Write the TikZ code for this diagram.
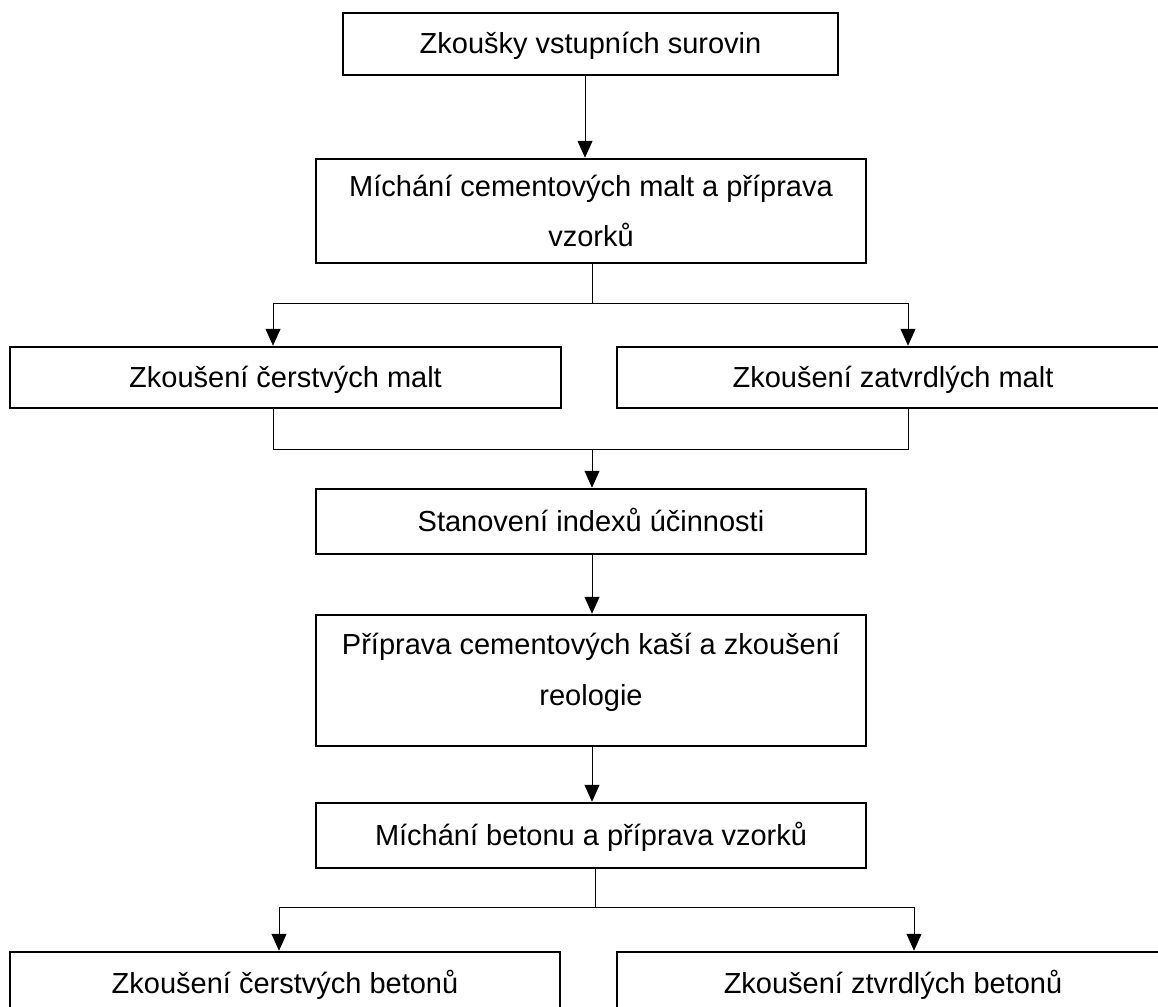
\documentclass[tikz,border=0pt]{standalone}
\usepackage{fontspec}
\setmainfont{Liberation Sans}
\usetikzlibrary{arrows.meta}
\tikzset{
  box/.style={draw, line width=2.5pt, inner sep=0pt, align=center,
    font=\fontsize{29}{50}\selectfont},
  conn/.style={line width=1pt},
  arr/.style={conn, -{Triangle[width=15pt,length=17pt]}}
}
\begin{document}
\begin{tikzpicture}[x=1pt,y=-1pt]
\useasboundingbox (0,0) rectangle (1158,1006);
\clip (0,0) rectangle (1158,1006);
\fill[white] (0,0) rectangle (1158,1006);
\node[box, minimum width=495pt, minimum height=62pt] (b1) at (590.5,44) {\strut Zkoušky vstupních surovin};
\node[box, minimum width=550pt, minimum height=104pt] (b2) at (591,211) {\strut Míchání cementových malt a příprava\\\strut vzorků};
\node[box, minimum width=551pt, minimum height=61pt] (b3l) at (285.5,377.5) {\strut Zkoušení čerstvých malt};
\node[box, minimum width=552pt, minimum height=61pt] (b3r) at (893,377.5) {\strut Zkoušení zatvrdlých malt};
\node[box, minimum width=550pt, minimum height=65pt] (b4) at (591,521.5) {\strut Stanovení indexů účinnosti};
\node[box, minimum width=550pt, minimum height=131pt] (b5) at (591,680.5) {\strut Příprava cementových kaší a zkoušení\\reologie\rule[-37pt]{0pt}{72pt}};
\node[box, minimum width=550pt, minimum height=65pt] (b6) at (591,835.5) {\strut Míchání betonu a příprava vzorků};
\node[box, minimum width=550pt, minimum height=62pt] (b7l) at (285,983) {\strut Zkoušení čerstvých betonů};
\node[box, minimum width=552pt, minimum height=62pt] (b7r) at (893,983) {\strut Zkoušení ztvrdlých betonů};
% columns and junctions
\coordinate (cA) at (585,0);
\coordinate (j1) at (592,303);
\coordinate (c1) at (273,303);
\coordinate (c2) at (908,303);
\coordinate (j2) at (592,449);
\coordinate (d1) at (273,449);
\coordinate (d2) at (908,449);
\coordinate (j3) at (595,907);
\coordinate (e1) at (279,907);
\coordinate (e2) at (914,907);
% connectors
\draw[arr] (cA |- b1.south) -- (cA |- b2.north);
\draw[conn] (j1 |- b2.south) -- (j1);
\draw[arr] (j1) -- (c1) -- (c1 |- b3l.north);
\draw[arr] (j1) -- (c2) -- (c2 |- b3r.north);
\draw[conn] (d1 |- b3l.south) -- (d1) -- (d2) -- (d2 |- b3r.south);
\draw[arr] (j2) -- (j2 |- b4.north);
\draw[arr] (j2 |- b4.south) -- (j2 |- b5.north);
\draw[arr] (j2 |- b5.south) -- (j2 |- b6.north);
\draw[conn] (j3 |- b6.south) -- (j3);
\draw[arr] (j3) -- (e1) -- (e1 |- b7l.north);
\draw[arr] (j3) -- (e2) -- (e2 |- b7r.north);
\end{tikzpicture}
\end{document}
